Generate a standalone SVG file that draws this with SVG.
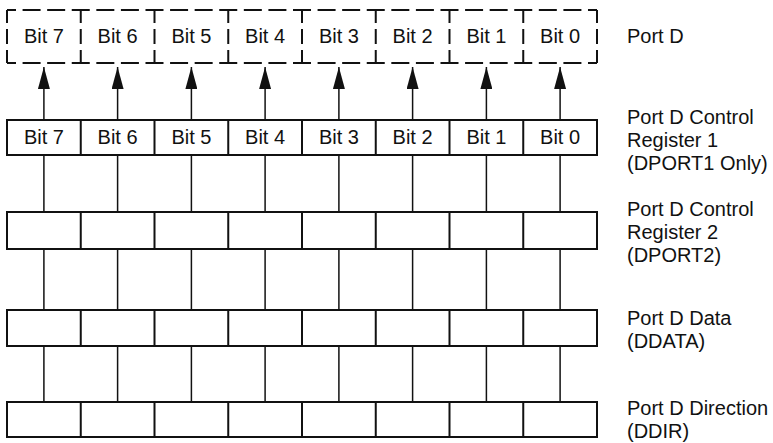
<svg xmlns="http://www.w3.org/2000/svg" width="773" height="443" viewBox="0 0 773 443">
<defs>
<style>
text{font-family:"Liberation Sans",Arial,sans-serif;font-size:20px;fill:#111}
.bit{text-anchor:middle}
.box{fill:#fff;stroke:#111;stroke-width:2}
.div{stroke:#111;stroke-width:2}
.dh{stroke:#111;stroke-width:2;stroke-dasharray:18 6.58;stroke-dashoffset:9;fill:none}
.dv{stroke:#111;stroke-width:2;stroke-dasharray:13 6 15 6 13;fill:none}
.con{stroke:#111;stroke-width:1.5;fill:none}
</style>
<marker id="ah" viewBox="0 0 22 12" refX="22" refY="6" markerWidth="22" markerHeight="12" markerUnits="userSpaceOnUse" orient="auto">
<path d="M0,0 L22,6 L0,12 Z" fill="#111"/>
</marker>
</defs>
<rect width="773" height="443" fill="#fff"/>

<g id="connectors">
<g id="arrows">
<path class="con" d="M43.9,120 V67" marker-end="url(#ah)"/>
<path class="con" d="M117.6,120 V67" marker-end="url(#ah)"/>
<path class="con" d="M191.4,120 V67" marker-end="url(#ah)"/>
<path class="con" d="M265.1,120 V67" marker-end="url(#ah)"/>
<path class="con" d="M338.9,120 V67" marker-end="url(#ah)"/>
<path class="con" d="M412.6,120 V67" marker-end="url(#ah)"/>
<path class="con" d="M486.4,120 V67" marker-end="url(#ah)"/>
<path class="con" d="M560.1,120 V67" marker-end="url(#ah)"/>
</g>
<g id="links">
<path class="con" d="M43.9,155 V402 M117.6,155 V402 M191.4,155 V402 M265.1,155 V402 M338.9,155 V402 M412.6,155 V402 M486.4,155 V402 M560.1,155 V402"/>
</g>
</g>

<g id="portd">
<path class="dh" d="M7,10 H80.75 M80.75,10 H154.5 M154.5,10 H228.25 M228.25,10 H302 M302,10 H375.75 M375.75,10 H449.5 M449.5,10 H523.25 M523.25,10 H597"/>
<path class="dh" d="M7,63 H80.75 M80.75,63 H154.5 M154.5,63 H228.25 M228.25,63 H302 M302,63 H375.75 M375.75,63 H449.5 M449.5,63 H523.25 M523.25,63 H597"/>
<path class="dv" d="M7,10 V63 M80.75,10 V63 M154.5,10 V63 M228.25,10 V63 M302,10 V63 M375.75,10 V63 M449.5,10 V63 M523.25,10 V63 M597,10 V63"/>
<text class="bit" x="43.9" y="43">Bit 7</text>
<text class="bit" x="117.6" y="43">Bit 6</text>
<text class="bit" x="191.4" y="43">Bit 5</text>
<text class="bit" x="265.1" y="43">Bit 4</text>
<text class="bit" x="338.9" y="43">Bit 3</text>
<text class="bit" x="412.6" y="43">Bit 2</text>
<text class="bit" x="486.4" y="43">Bit 1</text>
<text class="bit" x="560.1" y="43">Bit 0</text>
<text x="627" y="43">Port D</text>
</g>

<g id="dport1">
<rect class="box" x="7" y="120" width="590" height="35"/>
<path class="div" d="M80.75,120 V155 M154.5,120 V155 M228.25,120 V155 M302,120 V155 M375.75,120 V155 M449.5,120 V155 M523.25,120 V155"/>
<text class="bit" x="43.9" y="144">Bit 7</text>
<text class="bit" x="117.6" y="144">Bit 6</text>
<text class="bit" x="191.4" y="144">Bit 5</text>
<text class="bit" x="265.1" y="144">Bit 4</text>
<text class="bit" x="338.9" y="144">Bit 3</text>
<text class="bit" x="412.6" y="144">Bit 2</text>
<text class="bit" x="486.4" y="144">Bit 1</text>
<text class="bit" x="560.1" y="144">Bit 0</text>
<text x="627" y="124">Port D Control</text>
<text x="627" y="147">Register 1</text>
<text x="627" y="170">(DPORT1 Only)</text>
</g>

<g id="dport2">
<rect class="box" x="7" y="212" width="590" height="37"/>
<path class="div" d="M80.75,212 V249 M154.5,212 V249 M228.25,212 V249 M302,212 V249 M375.75,212 V249 M449.5,212 V249 M523.25,212 V249"/>
<text x="627" y="216">Port D Control</text>
<text x="627" y="239">Register 2</text>
<text x="627" y="262">(DPORT2)</text>
</g>

<g id="ddata">
<rect class="box" x="7" y="310" width="590" height="36"/>
<path class="div" d="M80.75,310 V346 M154.5,310 V346 M228.25,310 V346 M302,310 V346 M375.75,310 V346 M449.5,310 V346 M523.25,310 V346"/>
<text x="627" y="325">Port D Data</text>
<text x="627" y="348">(DDATA)</text>
</g>

<g id="ddir">
<rect class="box" x="7" y="402" width="590" height="35"/>
<path class="div" d="M80.75,402 V437 M154.5,402 V437 M228.25,402 V437 M302,402 V437 M375.75,402 V437 M449.5,402 V437 M523.25,402 V437"/>
<text x="627" y="415">Port D Direction</text>
<text x="627" y="438">(DDIR)</text>
</g>
</svg>
